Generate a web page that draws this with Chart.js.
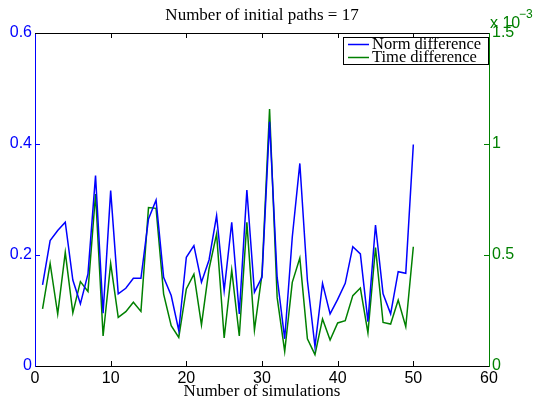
<!DOCTYPE html>
<html><head><meta charset="utf-8">
<script src="https://cdn.jsdelivr.net/npm/chart.js@4/dist/chart.umd.min.js"></script>
<style>html,body{margin:0;padding:0;background:#fff}#wrap{width:533px;height:405px}</style>
</head><body><div id="wrap"><canvas id="c" width="533" height="405"></canvas></div>
<script>
const simulations = Array.from({length:50},(_,i)=>i+1);
const normDifference = [0.146,0.226,0.244,0.259,0.155,0.112,0.166,0.343,0.095,0.316,
  0.130,0.140,0.158,0.158,0.265,0.299,0.160,0.127,0.064,0.196,
  0.217,0.151,0.191,0.271,0.136,0.259,0.094,0.317,0.133,0.160,
  0.440,0.160,0.049,0.232,0.365,0.154,0.035,0.149,0.094,0.120,
  0.149,0.215,0.202,0.080,0.254,0.130,0.094,0.170,0.167,0.399];
// time difference in units of 1e-3
const timeDifference = [0.257,0.462,0.234,0.512,0.239,0.380,0.336,0.775,0.135,0.462,
  0.219,0.245,0.287,0.246,0.714,0.710,0.324,0.182,0.129,0.347,
  0.414,0.185,0.437,0.595,0.126,0.432,0.135,0.647,0.162,0.414,
  1.158,0.309,0.066,0.377,0.486,0.122,0.051,0.212,0.117,0.194,
  0.204,0.317,0.351,0.149,0.534,0.196,0.189,0.297,0.177,0.537];
const xTicks = [0,10,20,30,40,50,60];
const leftTicks = [0,0.2,0.4,0.6];
const rightTicks = [0,0.5,1,1.5];
const titleText = 'Number of initial paths = 17';
const xLabel = 'Number of simulations';
const seriesNames = ['Norm difference','Time difference'];

const BLUE = '#0000ff', GREEN = '#008000';
const SERIF = '"Liberation Serif","DejaVu Serif",serif';
const SANS = '"Liberation Sans",Arial,sans-serif';

const extras = {
  id:'extras',
  afterDraw(chart){
    const ctx = chart.ctx, a = chart.chartArea;
    const xs = chart.scales.x, yl = chart.scales.y, yr = chart.scales.y1;
    ctx.save();
    ctx.strokeStyle = '#000'; ctx.lineWidth = 1;
    ctx.beginPath(); ctx.moveTo(a.left, a.top+0.5); ctx.lineTo(a.right, a.top+0.5); ctx.stroke();
    xTicks.forEach(v=>{
      if (v===0||v===60) return;
      const px = Math.round(xs.getPixelForValue(v))+0.5;
      ctx.beginPath(); ctx.moveTo(px,a.bottom); ctx.lineTo(px,a.bottom-5);
      ctx.moveTo(px,a.top); ctx.lineTo(px,a.top+5); ctx.stroke();
    });
    ctx.strokeStyle = BLUE;
    leftTicks.forEach(v=>{
      if (v===0||v===0.6) return;
      const py = Math.round(yl.getPixelForValue(v))+0.5;
      ctx.beginPath(); ctx.moveTo(a.left,py); ctx.lineTo(a.left+5,py); ctx.stroke();
    });
    ctx.strokeStyle = GREEN;
    rightTicks.forEach(v=>{
      if (v===0||v===1.5) return;
      const py = Math.round(yr.getPixelForValue(v))+0.5;
      ctx.beginPath(); ctx.moveTo(a.right,py); ctx.lineTo(a.right-5,py); ctx.stroke();
    });
    const cx = (a.left+a.right)/2;
    ctx.fillStyle = '#000'; ctx.textAlign='center'; ctx.textBaseline='middle';
    ctx.font = '17px '+SERIF;
    ctx.fillText(titleText, cx, 16);
    ctx.fillText(xLabel, cx, 392);
    ctx.fillStyle = GREEN; ctx.textAlign='left';
    ctx.font = '16px '+SANS;
    ctx.fillText('x 10', 490, 24);
    ctx.font = '12px '+SANS;
    ctx.fillText('\u22123', 519, 15);
    const lx = 343, ly = 37, lw = 145, lh = 27;
    ctx.fillStyle = '#fff'; ctx.fillRect(lx,ly,lw,lh);
    ctx.strokeStyle = '#000'; ctx.lineWidth = 1;
    ctx.strokeRect(lx+0.5,ly+0.5,lw,lh);
    ctx.font = '16.5px '+SERIF; ctx.textAlign='left'; ctx.fillStyle='#000';
    [[BLUE,seriesNames[0],44],[GREEN,seriesNames[1],57]].forEach(([c,t,y])=>{
      ctx.strokeStyle = c; ctx.lineWidth = 1.5;
      ctx.beginPath(); ctx.moveTo(348,y+0.5); ctx.lineTo(369,y+0.5); ctx.stroke();
      ctx.fillStyle='#000'; ctx.fillText(t, 372, y+1);
    });
    ctx.restore();
  }
};

new Chart(document.getElementById('c'), {
  type:'line',
  data:{
    datasets:[
      {label:seriesNames[0], data:simulations.map((x,i)=>({x,y:normDifference[i]})), yAxisID:'y',
       borderColor:BLUE, borderWidth:1.5, pointRadius:0, tension:0, fill:false},
      {label:seriesNames[1], data:simulations.map((x,i)=>({x,y:timeDifference[i]})), yAxisID:'y1',
       borderColor:GREEN, borderWidth:1.5, pointRadius:0, tension:0, fill:false}
    ]
  },
  options:{
    responsive:false, animation:false, devicePixelRatio:1,
    layout:{padding:{top:33,left:0,right:0,bottom:0}},
    plugins:{legend:{display:false}, title:{display:false}, tooltip:{enabled:false}},
    scales:{
      x:{type:'linear', min:0, max:60,
         afterBuildTicks:s=>{s.ticks = xTicks.map(v=>({value:v}));},
         afterFit:s=>{s.height = 39;},
         grid:{display:true, drawOnChartArea:false, drawTicks:false},
         border:{display:true,color:'#000',width:1},
         ticks:{color:'#000', padding:3, font:{family:SANS,size:16}, maxRotation:0, autoSkip:false}},
      y:{type:'linear', position:'left', min:0, max:0.6,
         afterBuildTicks:s=>{s.ticks = leftTicks.map(v=>({value:v}));},
         afterFit:s=>{s.width = 35;},
         grid:{display:true, drawOnChartArea:false, drawTicks:false},
         border:{display:true,color:BLUE,width:1},
         ticks:{color:BLUE, padding:3, font:{family:SANS,size:16}, callback:v=>String(+v.toFixed(1))}},
      y1:{type:'linear', position:'right', min:0, max:1.5,
         afterBuildTicks:s=>{s.ticks = rightTicks.map(v=>({value:v}));},
         afterFit:s=>{s.width = 44;},
         grid:{display:true, drawOnChartArea:false, drawTicks:false},
         border:{display:true,color:GREEN,width:1},
         ticks:{color:GREEN, padding:3, font:{family:SANS,size:16}, callback:v=>String(+v.toFixed(1))}}
    }
  },
  plugins:[extras]
});
</script></body></html>
